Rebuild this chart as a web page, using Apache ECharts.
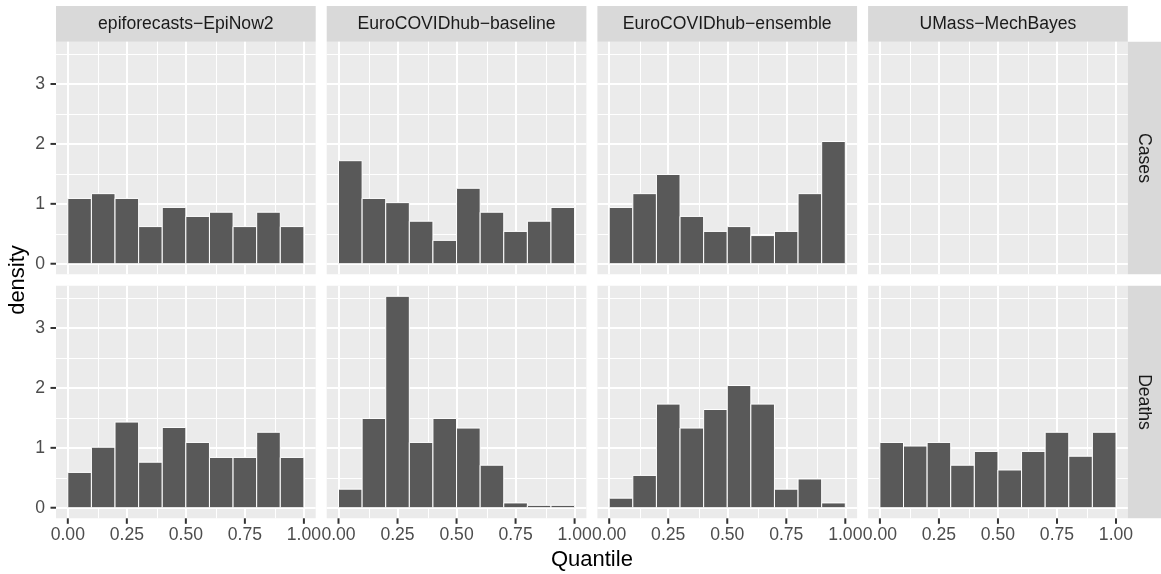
<!DOCTYPE html>
<html>
<head>
<meta charset="utf-8">
<script src="https://cdn.jsdelivr.net/npm/echarts@6/dist/echarts.min.js"></script>
<style>
html,body{margin:0;padding:0;background:#fff;}
#chart{width:1161px;height:574px;}
</style>
</head>
<body>
<div id="chart"></div>
<script>
// ---------------- data ----------------
const models = ['epiforecasts\u2212EpiNow2', 'EuroCOVIDhub\u2212baseline', 'EuroCOVIDhub\u2212ensemble', 'UMass\u2212MechBayes'];
const targets = ['Cases', 'Deaths'];
const binLower = [0.0, 0.1, 0.2, 0.3, 0.4, 0.5, 0.6, 0.7, 0.8, 0.9];
const binWidth = 0.1;

const casesEpiNow2   = [1.09, 1.17, 1.09, 0.62, 0.94, 0.79, 0.86, 0.62, 0.86, 0.62];
const casesBaseline  = [1.72, 1.09, 1.02, 0.71, 0.39, 1.26, 0.86, 0.54, 0.71, 0.94];
const casesEnsemble  = [0.94, 1.17, 1.49, 0.79, 0.54, 0.62, 0.47, 0.54, 1.17, 2.04];
const casesUMass     = [];
const deathsEpiNow2  = [0.59, 1.01, 1.43, 0.76, 1.34, 1.09, 0.84, 0.84, 1.26, 0.84];
const deathsBaseline = [0.31, 1.49, 3.53, 1.09, 1.49, 1.33, 0.71, 0.08, 0.04, 0.04];
const deathsEnsemble = [0.16, 0.54, 1.73, 1.33, 1.64, 2.04, 1.73, 0.31, 0.48, 0.08];
const deathsUMass    = [1.09, 1.03, 1.09, 0.71, 0.94, 0.63, 0.94, 1.26, 0.86, 1.26];

const xTicks = [0, 0.25, 0.5, 0.75, 1];
const xMinor = [0.125, 0.375, 0.625, 0.875];
const yTicks = [0, 1, 2, 3];
const yMinor = [0.5, 1.5, 2.5, 3.5];

const panelValues = [
  [casesEpiNow2, casesBaseline, casesEnsemble, casesUMass],
  [deathsEpiNow2, deathsBaseline, deathsEnsemble, deathsUMass]
];

// ---------------- layout / style ----------------
const FONT = "'Liberation Sans', Arial, Helvetica, sans-serif";
const PANEL_LEFT = 56, PANEL_W = 259.7, GAP = 11;
const STRIP_TOP = 6, STRIP_H = 35.7;
const ROW_TOP = [41.7, 285.7], PANEL_H = 232.6;
const RIGHT_STRIP_W = 34;
const TICK_LEN = 5.5;

const allVals = [].concat(...panelValues.map(r => [].concat(...r)));
const yDataMax = Math.max(...allVals);
const xLo = binLower[0], xHi = binLower[binLower.length - 1] + binWidth;
const xPad = 0.05 * (xHi - xLo), yPad = 0.05 * yDataMax;
const xMinAxis = xLo - xPad, xMaxAxis = xHi + xPad;
const yMinAxis = -yPad, yMaxAxis = yDataMax + yPad;

const grids = [], xAxes = [], yAxes = [], series = [], graphics = [];

function gridLines() {
  const d = [];
  xTicks.forEach(v => d.push({ xAxis: v, lineStyle: { width: 2 } }));
  xMinor.forEach(v => d.push({ xAxis: v, lineStyle: { width: 1 } }));
  yTicks.forEach(v => d.push({ yAxis: v, lineStyle: { width: 2 } }));
  yMinor.forEach(v => d.push({ yAxis: v, lineStyle: { width: 1 } }));
  return d;
}

for (let r = 0; r < 2; r++) {
  for (let c = 0; c < 4; c++) {
    const i = r * 4 + c;
    const left = PANEL_LEFT + c * (PANEL_W + GAP);
    const top = ROW_TOP[r];
    grids.push({
      left: left, top: top, width: PANEL_W, height: PANEL_H,
      show: true, backgroundColor: '#EBEBEB', borderWidth: 0,
      containLabel: false, outerBoundsMode: 'none'
    });
    xAxes.push({
      gridIndex: i, type: 'value', min: xMinAxis, max: xMaxAxis,
      splitLine: { show: false }, axisLine: { show: false }, axisTick: { show: false },
      axisLabel: { show: r === 1, customValues: xTicks, formatter: v => Number(v).toFixed(2),
                   color: '#4D4D4D', fontSize: 17.6, fontFamily: FONT, margin: 8 }
    });
    yAxes.push({
      gridIndex: i, type: 'value', min: yMinAxis, max: yMaxAxis,
      splitLine: { show: false }, axisLine: { show: false }, axisTick: { show: false },
      axisLabel: { show: c === 0, customValues: yTicks, formatter: v => String(Math.round(v)),
                   color: '#4D4D4D', fontSize: 17.6, fontFamily: FONT, margin: 11 }
    });
    // panel grid lines
    series.push({
      type: 'line', xAxisIndex: i, yAxisIndex: i, data: [], z: 1, silent: true,
      markLine: {
        z: 1, silent: true, symbol: ['none', 'none'], label: { show: false }, animation: false,
        lineStyle: { color: '#FFFFFF', type: 'solid' },
        emphasis: { disabled: true },
        data: gridLines()
      }
    });
    // histogram bars
    const vals = panelValues[r][c];
    series.push({
      type: 'custom', xAxisIndex: i, yAxisIndex: i, z: 10, silent: true, clip: true,
      encode: { x: [0, 1], y: 2 },
      data: vals.map((v, k) => [binLower[k], binLower[k] + binWidth, v]),
      renderItem: function (params, api) {
        const p0 = api.coord([api.value(0), 0]);
        const p1 = api.coord([api.value(1), api.value(2)]);
        return {
          type: 'rect',
          shape: { x: p0[0], y: p1[1], width: p1[0] - p0[0], height: p0[1] - p1[1] },
          style: { fill: '#595959', stroke: '#FFFFFF', lineWidth: 1 }
        };
      }
    });
    // x-axis tick marks (bottom row)
    if (r === 1) {
      series.push({
        type: 'custom', xAxisIndex: i, yAxisIndex: i, z: 10, silent: true, clip: false,
        encode: { x: 0, y: 1 },
        data: xTicks.map(v => [v, yMinAxis]),
        renderItem: function (params, api) {
          const p = api.coord([api.value(0), api.value(1)]);
          return { type: 'line', shape: { x1: p[0], y1: p[1], x2: p[0], y2: p[1] + TICK_LEN },
                   style: { stroke: '#333333', lineWidth: 2 } };
        }
      });
    }
    // y-axis tick marks (left column)
    if (c === 0) {
      series.push({
        type: 'custom', xAxisIndex: i, yAxisIndex: i, z: 10, silent: true, clip: false,
        encode: { x: 0, y: 1 },
        data: yTicks.map(v => [xMinAxis, v]),
        renderItem: function (params, api) {
          const p = api.coord([api.value(0), api.value(1)]);
          return { type: 'line', shape: { x1: p[0] - TICK_LEN, y1: p[1], x2: p[0], y2: p[1] },
                   style: { stroke: '#333333', lineWidth: 2 } };
        }
      });
    }
  }
}

// top strips
for (let c = 0; c < 4; c++) {
  const left = PANEL_LEFT + c * (PANEL_W + GAP);
  graphics.push({ type: 'rect', shape: { x: left, y: STRIP_TOP, width: PANEL_W, height: STRIP_H },
                  style: { fill: '#D9D9D9' }, silent: true });
  graphics.push({ type: 'text', x: left + PANEL_W / 2, y: STRIP_TOP + STRIP_H / 2,
                  style: { text: models[c], fill: '#1A1A1A', font: '17.6px ' + FONT,
                           align: 'center', verticalAlign: 'middle' }, silent: true });
}
// right strips
const rsLeft = PANEL_LEFT + 4 * PANEL_W + 3 * GAP;
for (let r = 0; r < 2; r++) {
  graphics.push({ type: 'rect', shape: { x: rsLeft, y: ROW_TOP[r], width: RIGHT_STRIP_W, height: PANEL_H },
                  style: { fill: '#D9D9D9' }, silent: true });
  graphics.push({ type: 'text', x: rsLeft + 16.5, y: ROW_TOP[r] + PANEL_H / 2, rotation: -Math.PI / 2,
                  style: { text: targets[r], fill: '#1A1A1A', font: '17.6px ' + FONT,
                           align: 'center', verticalAlign: 'middle' }, silent: true });
}
// axis titles
const plotCenterX = PANEL_LEFT + (4 * PANEL_W + 3 * GAP) / 2;
graphics.push({ type: 'text', x: plotCenterX, y: 560,
                style: { text: 'Quantile', fill: '#000000', font: '22px ' + FONT,
                         align: 'center', verticalAlign: 'middle' }, silent: true });
graphics.push({ type: 'text', x: 18, y: (ROW_TOP[0] + ROW_TOP[1] + PANEL_H) / 2, rotation: Math.PI / 2,
                style: { text: 'density', fill: '#000000', font: '22px ' + FONT,
                         align: 'center', verticalAlign: 'middle' }, silent: true });

const chart = echarts.init(document.getElementById('chart'), null, { renderer: 'canvas' });
chart.setOption({
  animation: false,
  backgroundColor: '#FFFFFF',
  grid: grids,
  xAxis: xAxes,
  yAxis: yAxes,
  series: series,
  graphic: graphics
});
</script>
</body>
</html>
